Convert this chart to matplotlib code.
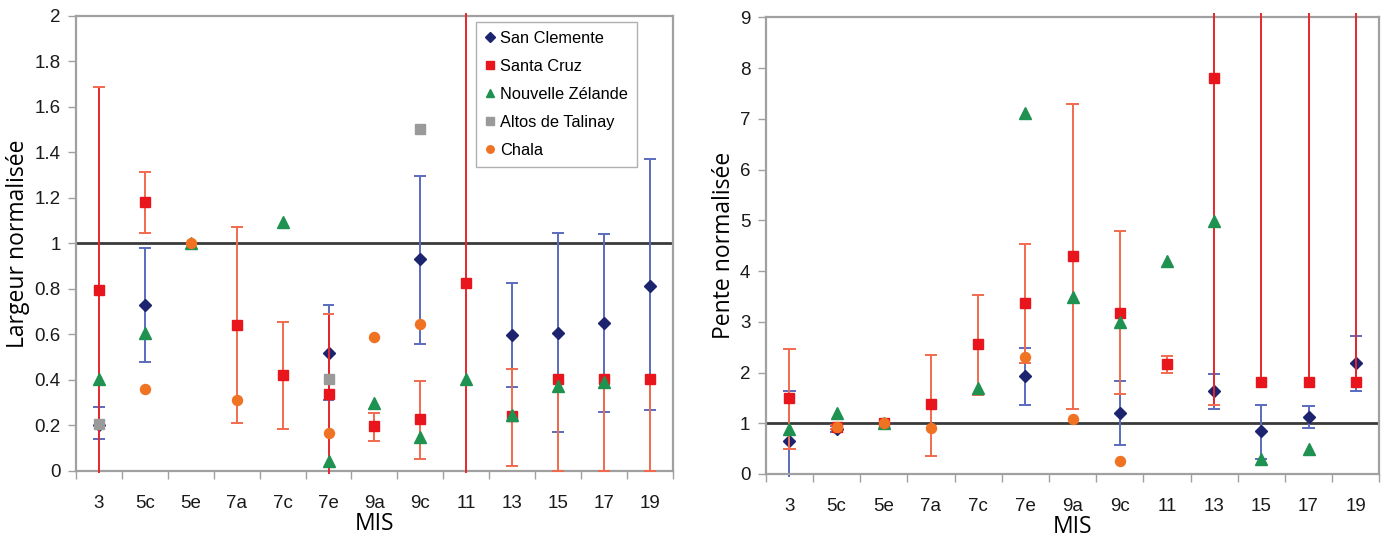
import numpy as np
import matplotlib
matplotlib.use("Agg")
import matplotlib.pyplot as plt
from matplotlib.ticker import FixedLocator, NullFormatter, FixedFormatter

nan = np.nan

categories = ['3', '5c', '5e', '7a', '7c', '7e', '9a', '9c', '11', '13', '15', '17', '19']
series_names = ['San Clemente', 'Santa Cruz', 'Nouvelle Zélande', 'Altos de Talinay', 'Chala']

# ---- Left panel: normalised width ----
sc_w      = [0.20, 0.73, nan, nan, nan, 0.517, nan, 0.93, nan, 0.596, 0.608, 0.65, 0.815]
sc_w_lo   = [0.139, 0.48, nan, nan, nan, 0.312, nan, 0.56, nan, 0.37, 0.17, 0.259, 0.267]
sc_w_hi   = [0.28, 0.979, nan, nan, nan, 0.731, nan, 1.297, nan, 0.828, 1.047, 1.04, 1.37]

cruz_w    = [0.794, 1.184, nan, 0.642, 0.422, 0.337, 0.196, 0.227, 0.825, 0.24, 0.403, 0.403, 0.403]
cruz_w_lo = [-0.01, 1.047, nan, 0.212, 0.183, -0.015, 0.133, 0.053, -0.01, 0.023, 0.0, 0.0, 0.0]
cruz_w_hi = [1.687, 1.314, nan, 1.071, 0.656, 0.689, 0.254, 0.396, 2.014, 0.45, 0.403, 0.403, 0.403]

nz_w      = [0.404, 0.605, 1.0, nan, 1.096, 0.045, 0.297, 0.151, 0.406, 0.245, 0.374, 0.39, nan]
altos_w   = [0.205, nan, nan, nan, nan, 0.404, nan, 1.502, nan, nan, nan, nan, nan]
chala_w   = [nan, 0.36, 1.0, 0.312, nan, 0.166, 0.588, 0.648, nan, nan, nan, nan, nan]

# ---- Right panel: normalised slope ----
sc_s      = [0.657, 0.887, nan, nan, nan, 1.938, nan, 1.196, nan, 1.636, 0.847, 1.123, 2.18]
sc_s_lo   = [-0.05, 0.82, nan, nan, nan, 1.36, nan, 0.57, nan, 1.287, 0.29, 0.907, 1.642]
sc_s_hi   = [1.642, 0.95, nan, nan, nan, 2.49, nan, 1.83, nan, 1.97, 1.366, 1.34, 2.726]

cruz_s    = [1.49, 0.93, 1.0, 1.38, 2.556, 3.376, 4.303, 3.18, 2.168, 7.805, 1.813, 1.813, 1.813]
cruz_s_lo = [0.487, 0.88, nan, 0.361, 1.557, 2.18, 1.28, 1.577, 1.997, 1.36, 1.813, 1.813, 1.813]
cruz_s_hi = [2.457, 0.97, nan, 2.345, 3.528, 4.527, 7.29, 4.78, 2.326, 9.08, 9.08, 9.08, 9.08]

nz_s      = [0.887, 1.196, 1.0, nan, 1.689, 7.109, 3.495, 3.0, 4.204, 4.993, 0.29, 0.487, nan]
altos_s   = [nan] * 13
chala_s   = [nan, 0.933, 1.0, 0.913, nan, 2.30, 1.078, 0.256, nan, nan, nan, nan, nan]

# ---- styles ----
C_SC, C_SC_ERR = '#1c2470', '#5b6bbf'
C_CRUZ, C_CRUZ_ERR, C_CRUZ_ERR2 = '#e8151c', '#f26a4e', '#e8262a'
C_NZ = '#1f9150'
C_ALTOS = '#9a9a9a'
C_CHALA = '#f07323'
SPINE = '#a0a0a0'

tick_font = dict(family=['Liberation Sans Narrow', 'Liberation Sans', 'DejaVu Sans'], size=13.5)
label_font = dict(family=['Open Sans', 'DejaVu Sans'], size=16.5)

fig = plt.figure(figsize=(13.86, 5.39), dpi=100)
axL = fig.add_axes([0.0548, 0.1262, 0.4307, 0.8442])
axR = fig.add_axes([0.5525, 0.1206, 0.4427, 0.8473])

x = np.arange(len(categories))


def errbars(ax, vals, lo, hi, color, color_long, ylim, z):
    for xi, v, l, h in zip(x, vals, lo, hi):
        if np.isnan(v) or np.isnan(l):
            continue
        long = (l < ylim[0]) or (h > ylim[1])
        ax.plot([xi, xi], [l, h], color=color_long if long else color, lw=1.4,
                zorder=z, clip_on=False, solid_capstyle='butt')
        for end in (l, h):
            if ylim[0] <= end <= ylim[1] + 1e-9 and end != v:
                ax.plot([xi - 0.13, xi + 0.13], [end, end], color=color, lw=1.4,
                        zorder=z, clip_on=False, solid_capstyle='butt')


def draw(ax, sc, sc_lo, sc_hi, cr, cr_lo, cr_hi, nz, al, ch, ylim):
    ax.axhline(1.0, color='#3a3a3a', lw=2.0, zorder=1)
    errbars(ax, sc, sc_lo, sc_hi, C_SC_ERR, C_SC_ERR, ylim, 2)
    ax.plot(x, sc, 'D', color=C_SC, ms=6.2, ls='none', zorder=3, label=series_names[0])
    errbars(ax, cr, cr_lo, cr_hi, C_CRUZ_ERR, C_CRUZ_ERR2, ylim, 4)
    ax.plot(x, cr, 's', color=C_CRUZ, ms=7.2, ls='none', zorder=5, label=series_names[1])
    ax.plot(x, nz, '^', color=C_NZ, ms=8.2, ls='none', zorder=6, label=series_names[2])
    ax.plot(x, al, 's', color=C_ALTOS, ms=7.2, ls='none', zorder=7, label=series_names[3])
    ax.plot(x, ch, 'o', color=C_CHALA, ms=7.2, ls='none', zorder=8, label=series_names[4])

    ax.set_xlim(-0.5, len(categories) - 0.5)
    ax.set_ylim(*ylim)
    for s in ax.spines.values():
        s.set_color(SPINE)
        s.set_linewidth(1.6)
    ax.xaxis.set_major_locator(FixedLocator(np.arange(-0.5, len(categories), 1.0)))
    ax.xaxis.set_major_formatter(NullFormatter())
    ax.xaxis.set_minor_locator(FixedLocator(x))
    ax.xaxis.set_minor_formatter(FixedFormatter(categories))
    ax.tick_params(axis='x', which='major', direction='out', length=6, width=1.0, color=SPINE)
    ax.tick_params(axis='x', which='minor', length=0, pad=17)
    ax.tick_params(axis='y', direction='out', length=6, width=1.0, color=SPINE, pad=5)


def style_ticks(ax):
    for t in ax.get_xticklabels(minor=True) + ax.get_yticklabels():
        t.set_fontfamily(tick_font['family'])
        t.set_fontsize(tick_font['size'])
        t.set_color('#1a1a1a')


draw(axL, sc_w, sc_w_lo, sc_w_hi, cruz_w, cruz_w_lo, cruz_w_hi, nz_w, altos_w, chala_w, (0, 2))
axL.set_yticks(np.arange(0, 2.01, 0.2))
axL.set_yticklabels(['0', '0.2', '0.4', '0.6', '0.8', '1', '1.2', '1.4', '1.6', '1.8', '2'])
style_ticks(axL)

draw(axR, sc_s, sc_s_lo, sc_s_hi, cruz_s, cruz_s_lo, cruz_s_hi, nz_s, altos_s, chala_s, (0, 9))
axR.set_yticks(np.arange(0, 10, 1))
style_ticks(axR)

axL.set_ylabel('Largeur normalisée', fontdict=label_font, labelpad=3)
axR.set_ylabel('Pente normalisée', fontdict=label_font, labelpad=3)
axL.set_xlabel('MIS', fontdict=label_font, labelpad=0)
axR.set_xlabel('MIS', fontdict=label_font, labelpad=0)

leg = axL.legend(loc='upper left', bbox_to_anchor=(0.670, 0.9875), borderaxespad=0,
                 frameon=True, fancybox=False,
                 edgecolor='#b0b0b0', framealpha=1, handlelength=0.6, handletextpad=0.35,
                 borderpad=0.55, labelspacing=0.8, markerscale=0.75,
                 prop={'family': ['Liberation Sans', 'DejaVu Sans'], 'size': 11.8})
leg.get_frame().set_linewidth(1.0)

fig.savefig('out.png', dpi=100)
